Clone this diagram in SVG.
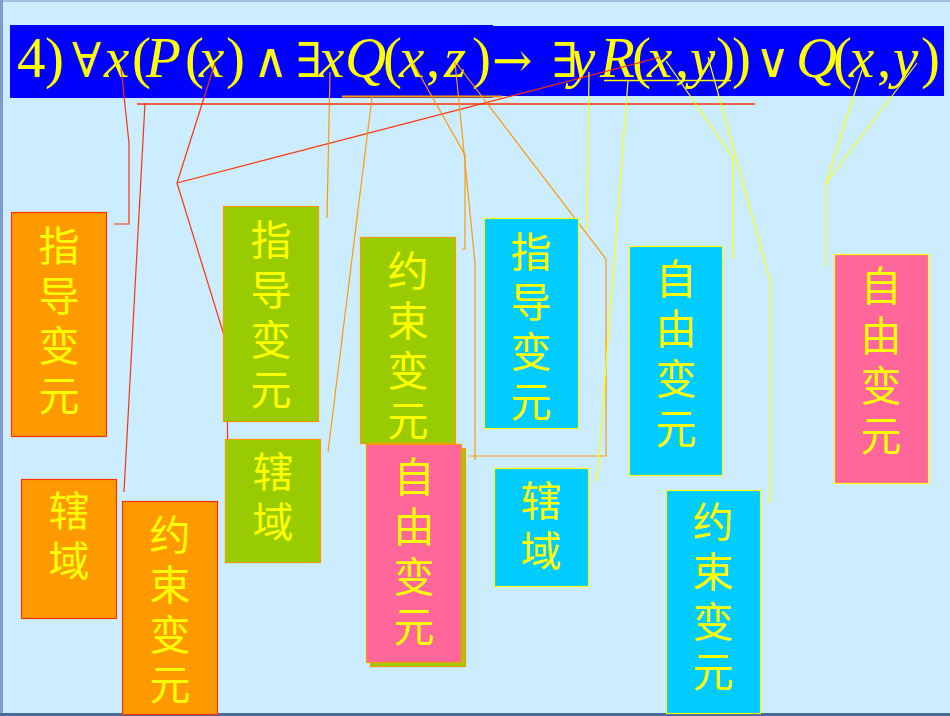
<svg xmlns="http://www.w3.org/2000/svg" width="950" height="716" viewBox="0 0 950 716">
<defs>
<style>
.f{font-family:"Liberation Serif","DejaVu Serif",serif;font-size:57px;fill:#FFFF00}
.i{font-style:italic}
.s{font-family:"DejaVu Serif","Liberation Serif",serif;font-size:48px}
.t{font-family:"Noto Sans CJK SC","Noto Sans CJK JP",sans-serif;font-size:41px;fill:#FFFF00;text-anchor:middle}
.o{fill:#FF9900;stroke:#FF3300;stroke-width:1.2}
.g{fill:#99CC00;stroke:#FF9900;stroke-width:1.2}
.c{fill:#00CCFF;stroke:#FFFF00;stroke-width:1.2}
.p{fill:#FF6699;stroke:#FF9900;stroke-width:1.2}
.py{fill:#FF6699;stroke:#FFFF00;stroke-width:1.2}
.r{stroke:#FF3300;fill:none;stroke-width:1.2}
.or{stroke:#FF9900;fill:none;stroke-width:1.2}
.y{stroke:#FFFF00;fill:none;stroke-width:1.2}
</style>
</defs>
<rect x="0" y="0" width="950" height="716" fill="#CCECFF"/>
<rect x="0" y="0" width="950" height="2" fill="#A6BCE0"/>
<rect x="0" y="0" width="3" height="716" fill="#7E9CCC"/>
<rect x="0" y="713" width="950" height="3" fill="#4C6A98"/>

<g id="formula">
<rect x="10" y="25" width="483" height="73" fill="#0000FF"/>
<rect x="470" y="26" width="474" height="70" fill="#0000FF"/>
<text class="f" y="77"><tspan x="17">4</tspan><tspan x="45">)</tspan><tspan x="72" class="s">∀</tspan><tspan x="104" class="i">x</tspan><tspan x="132">(</tspan><tspan x="146" class="i">P</tspan><tspan x="185">(</tspan><tspan x="199" class="i">x</tspan><tspan x="226">)</tspan><tspan x="253" class="s">∧</tspan><tspan x="296" class="s">∃</tspan><tspan x="319" class="i">x</tspan><tspan x="345" class="i">Q</tspan><tspan x="383">(</tspan><tspan x="399" class="i">x</tspan><tspan x="426">,</tspan><tspan x="444" class="i">z</tspan><tspan x="472">)</tspan><tspan x="492" class="s">→</tspan><tspan x="552" class="s">∃</tspan><tspan x="570" class="i">y</tspan><tspan x="600" class="i">R</tspan><tspan x="632">(</tspan><tspan x="647" class="i">x</tspan><tspan x="675">,</tspan><tspan x="690" class="i">y</tspan><tspan x="716">)</tspan><tspan x="732">)</tspan><tspan x="755" class="s">∨</tspan><tspan x="796" class="i">Q</tspan><tspan x="833">(</tspan><tspan x="849" class="i">x</tspan><tspan x="877">,</tspan><tspan x="893" class="i">y</tspan><tspan x="921">)</tspan></text>
</g>

<g id="connectors">
<line x1="342" y1="96.5" x2="502" y2="96.5" stroke="#FF9900" stroke-width="1.8"/>
<line x1="137" y1="104" x2="755" y2="104" stroke="#FF3300" stroke-width="1.6"/>
<line x1="604" y1="80.5" x2="731" y2="80.5" stroke="#FFFF00" stroke-width="1.6"/>
<polyline class="r" points="121,68 129,143 129,224 114,224"/>
<line class="r" x1="145" y1="103" x2="124" y2="492"/>
<polyline class="r" points="215,63 177,183 227,345 228,513 225,513"/>
<line class="r" x1="177" y1="183" x2="661" y2="57"/>
<line class="or" x1="330" y1="72" x2="327" y2="218"/>
<line class="or" x1="372" y1="97" x2="328" y2="452"/>
<polyline class="or" points="413,63 465,155 465,249 462,249"/>
<polyline class="or" points="455,62 475,263 475,460"/>
<polyline class="or" points="457,64 606,259 606,456 469,456"/>
<line class="y" x1="589" y1="72" x2="587" y2="230"/>
<line class="y" x1="628" y1="81" x2="597" y2="482"/>
<polyline class="y" points="666,61 733,158 733,257 730,257"/>
<polyline class="y" points="708,57 770,280 770,501 767,501"/>
<polyline class="y" points="862,70 826,183 826,266"/>
<line class="y" x1="917" y1="63" x2="826" y2="183"/>
</g>

<g id="nodeA"><rect class="o" x="11.5" y="212.5" width="95" height="224"/>
<text class="t"><tspan x="59" y="261">指</tspan><tspan x="59" y="311">导</tspan><tspan x="59" y="361">变</tspan><tspan x="59" y="411">元</tspan></text></g>
<g id="nodeB"><rect class="g" x="223.5" y="206.5" width="95" height="215"/>
<text class="t"><tspan x="271" y="255">指</tspan><tspan x="271" y="305">导</tspan><tspan x="271" y="355">变</tspan><tspan x="271" y="405">元</tspan></text></g>
<g id="nodeC"><rect class="g" x="225.5" y="439.5" width="95" height="123"/>
<text class="t"><tspan x="273" y="487">辖</tspan><tspan x="273" y="537">域</tspan></text></g>
<g id="nodeD"><rect class="o" x="21.5" y="479.5" width="95" height="139"/>
<text class="t"><tspan x="69" y="526">辖</tspan><tspan x="69" y="576">域</tspan></text></g>
<g id="nodeE"><rect class="o" x="122.5" y="501.5" width="95" height="213"/>
<text class="t"><tspan x="170" y="550">约</tspan><tspan x="170" y="600">束</tspan><tspan x="170" y="650">变</tspan><tspan x="170" y="700">元</tspan></text></g>
<g id="nodeF"><rect class="g" x="360.5" y="237.5" width="95" height="206"/>
<text class="t"><tspan x="408" y="286">约</tspan><tspan x="408" y="336">束</tspan><tspan x="408" y="386">变</tspan><tspan x="408" y="436">元</tspan></text></g>
<g id="nodeG"><rect class="g" x="370.5" y="448.5" width="95" height="218"/>
<rect class="p" x="366.5" y="444.5" width="95" height="218"/>
<text class="t"><tspan x="414" y="492">自</tspan><tspan x="414" y="542">由</tspan><tspan x="414" y="592">变</tspan><tspan x="414" y="642">元</tspan></text></g>
<g id="nodeH"><rect class="c" x="484.5" y="218.5" width="94" height="210"/>
<text class="t"><tspan x="531" y="267">指</tspan><tspan x="531" y="317">导</tspan><tspan x="531" y="367">变</tspan><tspan x="531" y="417">元</tspan></text></g>
<g id="nodeI"><rect class="c" x="494.5" y="468.5" width="94" height="118"/>
<text class="t"><tspan x="541" y="516">辖</tspan><tspan x="541" y="566">域</tspan></text></g>
<g id="nodeJ"><rect class="c" x="629.5" y="246.5" width="93" height="229"/>
<text class="t"><tspan x="676" y="294">自</tspan><tspan x="676" y="344">由</tspan><tspan x="676" y="394">变</tspan><tspan x="676" y="444">元</tspan></text></g>
<g id="nodeK"><rect class="c" x="666.5" y="490.5" width="94" height="223"/>
<text class="t"><tspan x="713" y="537">约</tspan><tspan x="713" y="587">束</tspan><tspan x="713" y="637">变</tspan><tspan x="713" y="687">元</tspan></text></g>
<g id="nodeL"><rect class="py" x="834.5" y="254.5" width="94" height="229"/>
<text class="t"><tspan x="881" y="301">自</tspan><tspan x="881" y="351">由</tspan><tspan x="881" y="401">变</tspan><tspan x="881" y="451">元</tspan></text></g>
</svg>
